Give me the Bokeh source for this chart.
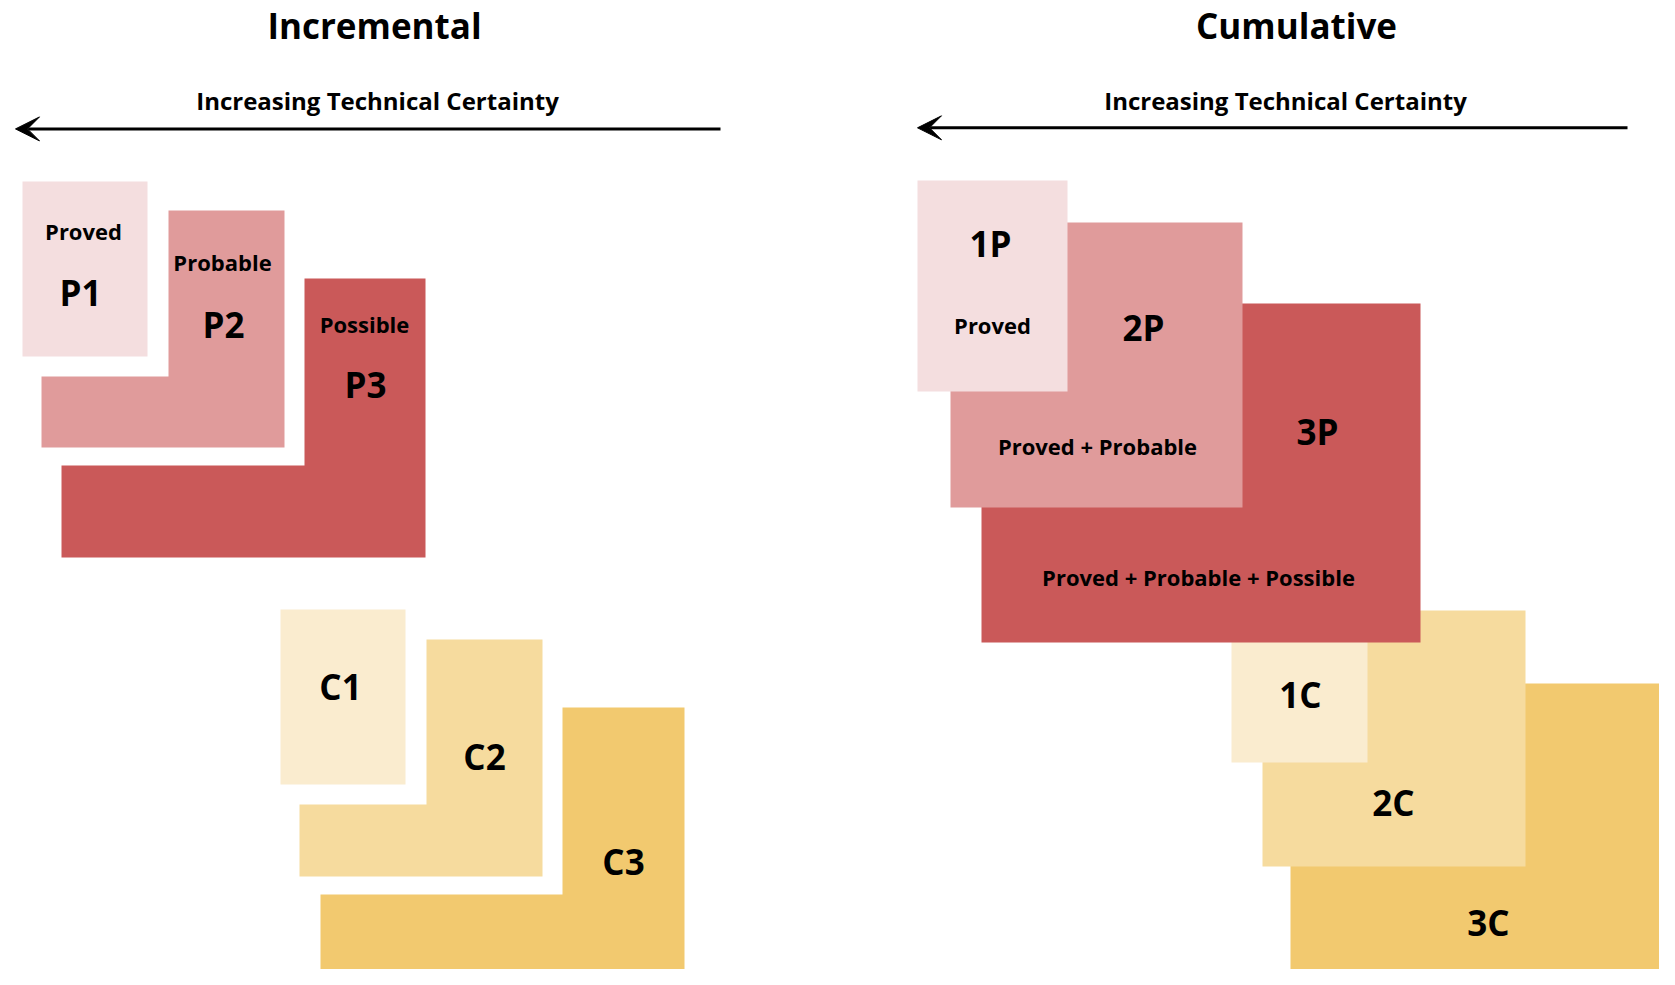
from bokeh.plotting import figure
from bokeh.models import Range1d, Arrow, VeeHead
from bokeh.core.properties import value
from bokeh.embed import file_html
from bokeh.resources import INLINE

FONT = "Open Sans"

# ---------------- data ----------------
titles = ["Incremental", "Cumulative"]
title_x = [374, 1296]
subtitle = "Increasing Technical Certainty"
subtitle_x = [377, 1285]
arrow_start = [720, 1627]
arrow_end = [15, 917]
arrow_y = [128.4, 127.3]

# blocks: name, left, right, top, bottom, notch_x, notch_y (L-shape inner corner)
blk_names = ["C3", "C2", "C1", "P3", "P2", "P1",
             "3C", "2C", "1C", "3P", "2P", "1P"]
blk_left = [320, 299, 280, 61, 41, 22, 1290, 1262, 1231, 981, 950, 917]
blk_right = [684, 542, 405, 425, 284, 147, 1680, 1525, 1367, 1420, 1242, 1067]
blk_top = [707, 639, 609, 278, 210, 181, 683, 610, 580, 303, 222, 180]
blk_bottom = [990, 876, 784, 557, 447, 356, 990, 866, 762, 642, 507, 391]
blk_notch_x = [562, 426, 280, 304, 168, 22, 1290, 1262, 1231, 981, 950, 917]
blk_notch_y = [894, 804, 609, 465, 376, 181, 683, 610, 580, 303, 222, 180]
blk_colors = ["#F2C96F", "#F6DB9E", "#FAECCF", "#CA5959", "#E09B9B", "#F4DEDF",
              "#F2C96F", "#F6DB9E", "#FAECCF", "#CA5959", "#E09B9B", "#F4DEDF"]

big_labels = ["P1", "P2", "P3", "C1", "C2", "C3", "1P", "2P", "3P", "1C", "2C", "3C"]
big_x = [80, 223, 365, 340, 484, 623, 990, 1143, 1317, 1300, 1393, 1488]
big_y = [292, 324, 384, 686, 756, 861, 243, 327, 431, 694, 802, 922]

small_labels = ["Proved", "Probable", "Possible", "Proved", "Proved + Probable",
                "Proved + Probable + Possible"]
small_x = [83, 222, 364, 992, 1097, 1198]
small_y = [230, 261, 323, 324, 445, 576]

# ---------------- figure ----------------
p = figure(width=1659, height=969, output_backend="svg", toolbar_location=None,
           x_range=Range1d(0, 1659), y_range=Range1d(969, 0),
           min_border=0, outline_line_color=None)
p.axis.visible = False
p.grid.visible = False
p.background_fill_color = "white"
p.border_fill_color = "white"

xs, ys = [], []
for l, r, t, b, nx, ny in zip(blk_left, blk_right, blk_top, blk_bottom, blk_notch_x, blk_notch_y):
    xs.append([l, nx, nx, r, r, l])
    ys.append([ny, ny, t, t, b, b])
p.patches(xs=xs, ys=ys, fill_color=blk_colors, line_color=None)

# arrows
for xs0, xe, ya in zip(arrow_start, arrow_end, arrow_y):
    p.add_layout(Arrow(end=VeeHead(size=24, fill_color="black", line_color="black", line_width=1),
                       x_start=xs0, y_start=ya, x_end=xe, y_end=ya,
                       line_width=3, line_color="black"))

# titles
p.text(x=title_x, y=[25, 25], text=titles, text_font=value(FONT), text_font_style="bold",
       text_font_size="35px", text_align="center", text_baseline="middle", text_color="black")
p.text(x=subtitle_x, y=[100, 100], text=[subtitle, subtitle], text_font=value(FONT),
       text_font_style="bold", text_font_size="24px", text_align="center",
       text_baseline="middle", text_color="black")

p.text(x=big_x, y=big_y, text=big_labels, text_font=value(FONT), text_font_style="bold",
       text_font_size="35px", text_align="center", text_baseline="middle", text_color="black")
p.text(x=small_x, y=small_y, text=small_labels, text_font=value(FONT), text_font_style="bold",
       text_font_size="22px", text_align="center", text_baseline="middle", text_color="black")

open("out.html", "w").write(file_html(p, INLINE))
